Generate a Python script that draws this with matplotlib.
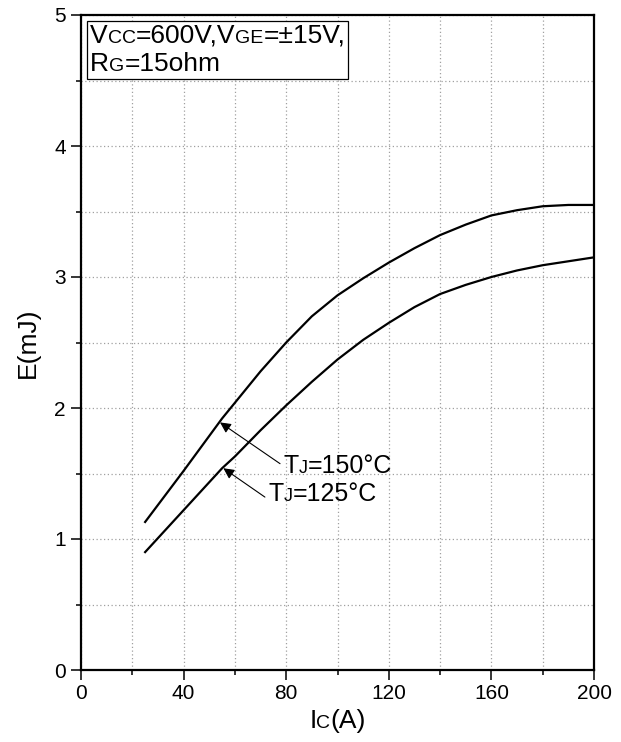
import matplotlib
matplotlib.use("Agg")
import matplotlib.pyplot as plt
from matplotlib.offsetbox import TextArea, HPacker, VPacker, AnchoredOffsetbox, AnnotationBbox
from matplotlib.ticker import MultipleLocator

plt.rcParams['font.family'] = ['Liberation Sans', 'DejaVu Sans']

ic_150 = [25, 40, 55, 60, 70, 80, 90, 100, 110, 120, 130, 140, 150, 160, 170, 180, 190, 200]
e_150 = [1.13, 1.52, 1.92, 2.04, 2.28, 2.50, 2.70, 2.86, 2.99, 3.11, 3.22, 3.32, 3.40, 3.47, 3.51, 3.54, 3.55, 3.55]
ic_125 = [25, 40, 55, 60, 70, 80, 90, 100, 110, 120, 130, 140, 150, 160, 170, 180, 190, 200]
e_125 = [0.90, 1.22, 1.54, 1.63, 1.83, 2.02, 2.20, 2.37, 2.52, 2.65, 2.77, 2.87, 2.94, 3.00, 3.05, 3.09, 3.12, 3.15]

x_ticks = [0, 40, 80, 120, 160, 200]
y_ticks = [0, 1, 2, 3, 4, 5]


def rich(parts, big, small):
    # parts: list of (text, is_small)
    boxes = [TextArea(t, textprops=dict(fontsize=small if s else big, color='k'))
             for t, s in parts]
    return HPacker(children=boxes, align="baseline", pad=0, sep=0)


fig = plt.figure(figsize=(6.21, 7.42), dpi=100)
ax = fig.add_axes([81 / 621, 72 / 742, 513 / 621, 655 / 742])

ax.plot(ic_150, e_150, color='k', lw=1.6)
ax.plot(ic_125, e_125, color='k', lw=1.6)

ax.set_xlim(0, 200)
ax.set_ylim(0, 5)
ax.set_xticks(x_ticks)
ax.set_yticks(y_ticks)
ax.xaxis.set_minor_locator(MultipleLocator(20))
ax.yaxis.set_minor_locator(MultipleLocator(0.5))
ax.tick_params(which='major', direction='out', length=7, width=1.1, labelsize=15, pad=3)
ax.tick_params(which='minor', direction='out', length=3.5, width=1.1)
ax.tick_params(axis='y', which='major', pad=4)
ax.grid(True, which='both', color='#a0a0a0', ls=(0, (1, 2)), lw=0.9)
for sp in ax.spines.values():
    sp.set_linewidth(1.6)

ax.set_ylabel('E(mJ)', fontsize=19, labelpad=10)

# x label with small C
xl = rich([('I', False), ('C', True), ('(A)', False)], 19, 14)
ax.add_artist(AnnotationBbox(xl, (0.5, -0.078), xycoords='axes fraction', frameon=False,
                             box_alignment=(0.5, 0.5), pad=0))

# condition box
line1 = rich([('V', False), ('CC', True), ('=600V,V', False), ('GE', True), ('=\u00b115V,', False)], 19, 14)
line2 = rich([('R', False), ('G', True), ('=15ohm', False)], 19, 14)
cond = VPacker(children=[line1, line2], align="left", pad=0, sep=3)
anch = AnchoredOffsetbox(loc='upper left', child=cond, pad=0.22, borderpad=0,
                         frameon=True, bbox_to_anchor=(0.0117, 0.991),
                         bbox_transform=ax.transAxes)
anch.patch.set_linewidth(0.9)
anch.patch.set_edgecolor('k')
anch.patch.set_boxstyle('square', pad=0)
ax.add_artist(anch)

# temperature labels with arrows
arrow = dict(arrowstyle='-|>', color='k', lw=0.8, mutation_scale=16, shrinkA=0, shrinkB=0)
ax.annotate('', xy=(54.2, 1.89), xytext=(77.6, 1.575), arrowprops=arrow)
ax.annotate('', xy=(55.5, 1.54), xytext=(71.7, 1.32), arrowprops=arrow)

t150 = rich([('T', False), ('J', True), ('=150\u00b0C', False)], 18, 13)
ax.add_artist(AnnotationBbox(t150, (78.8, 1.56), frameon=False, box_alignment=(0, 0.5), pad=0))
t125 = rich([('T', False), ('J', True), ('=125\u00b0C', False)], 18, 13)
ax.add_artist(AnnotationBbox(t125, (73.0, 1.34), frameon=False, box_alignment=(0, 0.5), pad=0))

fig.savefig('out.png', dpi=100)
